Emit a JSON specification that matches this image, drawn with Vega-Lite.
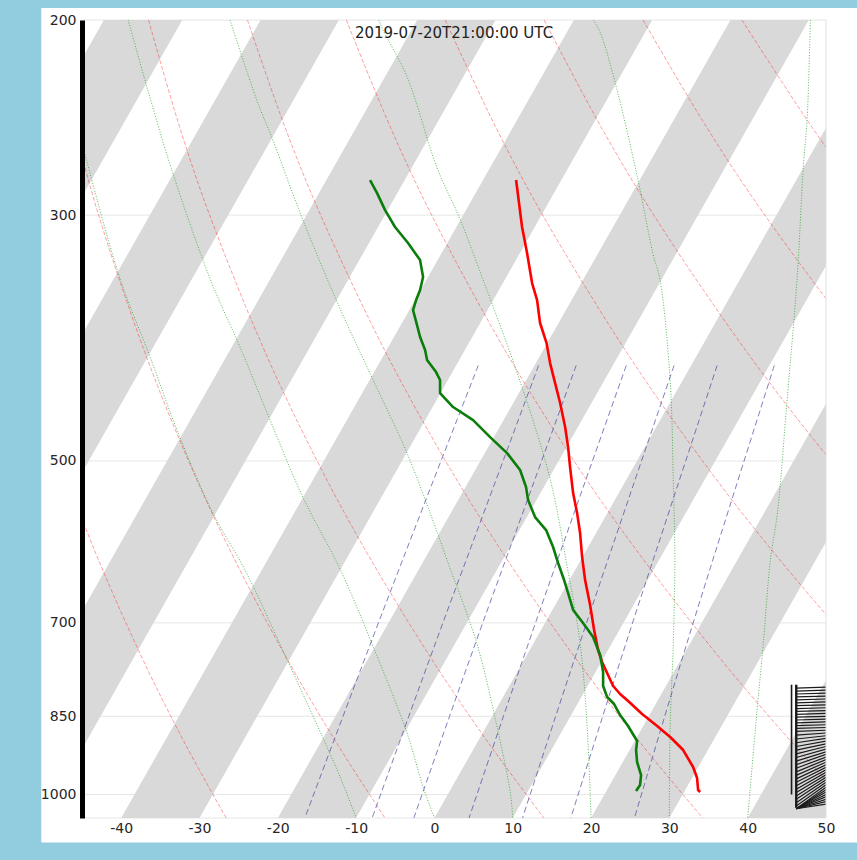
{
  "$schema": "https://vega.github.io/schema/vega-lite/v6.json",
  "width": 744,
  "height": 798,
  "autosize": {"type": "none"},
  "padding": {"left": 82, "top": 20, "right": 31, "bottom": 42},
  "background": "#92cddf",
  "config": {
    "view": {"stroke": null},
    "font": "DejaVu Sans",
    "axis": {"labelFont": "DejaVu Sans", "labelFontSize": 14, "labelColor": "#262626", "tickSize": 0, "zindex": 1}
  },
  "datasets": {
    "bands": [
      {"band": -100, "p": 1050, "xl": -100, "xr": -90}, {"band": -100, "p": 200, "xl": -42.2, "xr": -32.2},
      {"band": -80, "p": 1050, "xl": -80, "xr": -70}, {"band": -80, "p": 200, "xl": -22.2, "xr": -12.2},
      {"band": -60, "p": 1050, "xl": -60, "xr": -50}, {"band": -60, "p": 200, "xl": -2.2, "xr": 7.8},
      {"band": -40, "p": 1050, "xl": -40, "xr": -30}, {"band": -40, "p": 200, "xl": 17.8, "xr": 27.8},
      {"band": -20, "p": 1050, "xl": -20, "xr": -10}, {"band": -20, "p": 200, "xl": 37.8, "xr": 47.8},
      {"band": 0, "p": 1050, "xl": 0, "xr": 10}, {"band": 0, "p": 200, "xl": 57.8, "xr": 67.8},
      {"band": 20, "p": 1050, "xl": 20, "xr": 30}, {"band": 20, "p": 200, "xl": 77.8, "xr": 87.8},
      {"band": 40, "p": 1050, "xl": 40, "xr": 50}, {"band": 40, "p": 200, "xl": 97.8, "xr": 107.8}
    ],
    "grid": [{"p": 200}, {"p": 300}, {"p": 500}, {"p": 700}, {"p": 850}, {"p": 1000}, {"p": 1050}],
    "dry": [
      {"t0": -30, "p": 1050, "x": -26.59}, {"t0": -30, "p": 900, "x": -31.83}, {"t0": -30, "p": 750, "x": -37.44}, {"t0": -30, "p": 600, "x": -43.49}, {"t0": -30, "p": 500, "x": -47.79},
      {"t0": -10, "p": 1050, "x": -6.31}, {"t0": -10, "p": 900, "x": -12.42}, {"t0": -10, "p": 750, "x": -19.02}, {"t0": -10, "p": 600, "x": -26.2}, {"t0": -10, "p": 500, "x": -31.39}, {"t0": -10, "p": 400, "x": -36.92}, {"t0": -10, "p": 300, "x": -42.88}, {"t0": -10, "p": 250, "x": -45.98},
      {"t0": 10, "p": 1050, "x": 13.98}, {"t0": 10, "p": 900, "x": 6.98}, {"t0": 10, "p": 750, "x": -0.6}, {"t0": 10, "p": 600, "x": -8.92}, {"t0": 10, "p": 500, "x": -14.98}, {"t0": 10, "p": 400, "x": -21.53}, {"t0": 10, "p": 300, "x": -28.7}, {"t0": 10, "p": 250, "x": -32.52}, {"t0": 10, "p": 200, "x": -36.5},
      {"t0": 30, "p": 1050, "x": 34.26}, {"t0": 30, "p": 900, "x": 26.39}, {"t0": 30, "p": 750, "x": 17.82}, {"t0": 30, "p": 600, "x": 8.37}, {"t0": 30, "p": 500, "x": 1.43}, {"t0": 30, "p": 400, "x": -6.14}, {"t0": 30, "p": 300, "x": -14.53}, {"t0": 30, "p": 250, "x": -19.07}, {"t0": 30, "p": 200, "x": -23.87},
      {"t0": 50, "p": 1050, "x": 54.54}, {"t0": 50, "p": 900, "x": 45.8}, {"t0": 50, "p": 750, "x": 36.24}, {"t0": 50, "p": 600, "x": 25.65}, {"t0": 50, "p": 500, "x": 17.83}, {"t0": 50, "p": 400, "x": 9.26}, {"t0": 50, "p": 300, "x": -0.35}, {"t0": 50, "p": 250, "x": -5.61}, {"t0": 50, "p": 200, "x": -11.25},
      {"t0": 70, "p": 900, "x": 65.2}, {"t0": 70, "p": 750, "x": 54.67}, {"t0": 70, "p": 600, "x": 42.93}, {"t0": 70, "p": 500, "x": 34.24}, {"t0": 70, "p": 400, "x": 24.65}, {"t0": 70, "p": 300, "x": 13.83}, {"t0": 70, "p": 250, "x": 7.85}, {"t0": 70, "p": 200, "x": 1.38},
      {"t0": 90, "p": 750, "x": 73.09}, {"t0": 90, "p": 600, "x": 60.22}, {"t0": 90, "p": 500, "x": 50.65}, {"t0": 90, "p": 400, "x": 40.04}, {"t0": 90, "p": 300, "x": 28.01}, {"t0": 90, "p": 250, "x": 21.31}, {"t0": 90, "p": 200, "x": 14.01},
      {"t0": 110, "p": 500, "x": 67.05}, {"t0": 110, "p": 400, "x": 55.44}, {"t0": 110, "p": 300, "x": 42.19}, {"t0": 110, "p": 250, "x": 34.77}, {"t0": 110, "p": 200, "x": 26.64},
      {"t0": 130, "p": 400, "x": 70.83}, {"t0": 130, "p": 300, "x": 56.37}, {"t0": 130, "p": 250, "x": 48.23}, {"t0": 130, "p": 200, "x": 39.27}
    ],
    "moist": [
      {"t0": -10, "p": 1050, "x": -10.0}, {"t0": -10, "p": 964, "x": -12.05}, {"t0": -10, "p": 756, "x": -18.8}, {"t0": -10, "p": 627, "x": -24.2}, {"t0": -10, "p": 557, "x": -28.3}, {"t0": -10, "p": 476, "x": -32.5}, {"t0": -10, "p": 403, "x": -36.3}, {"t0": -10, "p": 343, "x": -40.1}, {"t0": -10, "p": 268, "x": -44.4}, {"t0": -10, "p": 245, "x": -45.8},
      {"t0": 0, "p": 1050, "x": 0.0}, {"t0": 0, "p": 984.5, "x": -1.45}, {"t0": 0, "p": 880, "x": -3.5}, {"t0": 0, "p": 736, "x": -7.8}, {"t0": 0, "p": 627, "x": -12.0}, {"t0": 0, "p": 539, "x": -16.8}, {"t0": 0, "p": 459, "x": -21.0}, {"t0": 0, "p": 395, "x": -24.8}, {"t0": 0, "p": 343, "x": -28.6}, {"t0": 0, "p": 275, "x": -33.4}, {"t0": 0, "p": 230, "x": -36.7}, {"t0": 0, "p": 200, "x": -39.1},
      {"t0": 10, "p": 1050, "x": 10.0}, {"t0": 10, "p": 997, "x": 9.7}, {"t0": 10, "p": 869, "x": 8.0}, {"t0": 10, "p": 730, "x": 5.4}, {"t0": 10, "p": 614, "x": 1.6}, {"t0": 10, "p": 581, "x": 0.4}, {"t0": 10, "p": 492, "x": -3.5}, {"t0": 10, "p": 423, "x": -7.8}, {"t0": 10, "p": 365, "x": -12.0}, {"t0": 10, "p": 303, "x": -16.8}, {"t0": 10, "p": 257, "x": -20.6}, {"t0": 10, "p": 236, "x": -22.7}, {"t0": 10, "p": 200, "x": -26.1},
      {"t0": 20, "p": 1050, "x": 20.0}, {"t0": 20, "p": 869, "x": 19.5}, {"t0": 20, "p": 730, "x": 18.6}, {"t0": 20, "p": 620, "x": 16.9}, {"t0": 20, "p": 520, "x": 14.8}, {"t0": 20, "p": 423, "x": 10.9}, {"t0": 20, "p": 343, "x": 6.2}, {"t0": 20, "p": 303, "x": 3.3}, {"t0": 20, "p": 271.5, "x": 0.3}, {"t0": 20, "p": 225, "x": -3.5}, {"t0": 20, "p": 204, "x": -6.6}, {"t0": 20, "p": 200, "x": -7.1},
      {"t0": 30, "p": 1050, "x": 30.0}, {"t0": 30, "p": 869, "x": 30.1}, {"t0": 30, "p": 730, "x": 30.5}, {"t0": 30, "p": 614, "x": 30.7}, {"t0": 30, "p": 520, "x": 30.5}, {"t0": 30, "p": 423, "x": 30.1}, {"t0": 30, "p": 343, "x": 28.8}, {"t0": 30, "p": 325, "x": 27.9}, {"t0": 30, "p": 279, "x": 26.0}, {"t0": 30, "p": 231, "x": 23.3}, {"t0": 30, "p": 205.5, "x": 21.2}, {"t0": 30, "p": 200, "x": 20.3},
      {"t0": 40, "p": 1050, "x": 40.0}, {"t0": 40, "p": 839, "x": 41.2}, {"t0": 40, "p": 730, "x": 42.0}, {"t0": 40, "p": 614, "x": 42.9}, {"t0": 40, "p": 557, "x": 43.8}, {"t0": 40, "p": 443, "x": 45.0}, {"t0": 40, "p": 343, "x": 46.3}, {"t0": 40, "p": 271.5, "x": 47.1}, {"t0": 40, "p": 245, "x": 47.6}, {"t0": 40, "p": 200, "x": 48.0}
    ],
    "mix": [
      {"w": 1, "p": 1050, "x": -16.55}, {"w": 1, "p": 850, "x": -11.67}, {"w": 1, "p": 700, "x": -7.15}, {"w": 1, "p": 550, "x": -1.44}, {"w": 1, "p": 410, "x": 5.6},
      {"w": 2, "p": 1050, "x": -7.95}, {"w": 2, "p": 850, "x": -3.27}, {"w": 2, "p": 700, "x": 1.08}, {"w": 2, "p": 550, "x": 6.59}, {"w": 2, "p": 410, "x": 13.3},
      {"w": 3, "p": 1050, "x": -2.63}, {"w": 3, "p": 850, "x": 1.93}, {"w": 3, "p": 700, "x": 6.17}, {"w": 3, "p": 550, "x": 11.56}, {"w": 3, "p": 410, "x": 18.1},
      {"w": 5, "p": 1050, "x": 4.42}, {"w": 5, "p": 850, "x": 8.81}, {"w": 5, "p": 700, "x": 12.91}, {"w": 5, "p": 550, "x": 18.11}, {"w": 5, "p": 410, "x": 24.5},
      {"w": 8, "p": 1050, "x": 11.25}, {"w": 8, "p": 850, "x": 15.48}, {"w": 8, "p": 700, "x": 19.43}, {"w": 8, "p": 550, "x": 24.45}, {"w": 8, "p": 410, "x": 30.6},
      {"w": 12, "p": 1050, "x": 17.41}, {"w": 12, "p": 850, "x": 21.49}, {"w": 12, "p": 700, "x": 25.3}, {"w": 12, "p": 550, "x": 30.16}, {"w": 12, "p": 410, "x": 36.1},
      {"w": 20, "p": 1050, "x": 25.54}, {"w": 20, "p": 850, "x": 29.41}, {"w": 20, "p": 700, "x": 33.04}, {"w": 20, "p": 550, "x": 37.69}, {"w": 20, "p": 410, "x": 43.4}
    ],
    "temp": [
      {"p": 278.9, "x": 10.43}, {"p": 307.5, "x": 11.19}, {"p": 324.6, "x": 11.83}, {"p": 345.5, "x": 12.47}, {"p": 357.9, "x": 13.11}, {"p": 375.4, "x": 13.49}, {"p": 391.4, "x": 14.32}, {"p": 408.0, "x": 14.77}, {"p": 425.3, "x": 15.41}, {"p": 443.3, "x": 16.05}, {"p": 466.0, "x": 16.69}, {"p": 485.8, "x": 17.07}, {"p": 506.4, "x": 17.32}, {"p": 534.5, "x": 17.71}, {"p": 557.2, "x": 18.22}, {"p": 580.8, "x": 18.6}, {"p": 610.5, "x": 18.86}, {"p": 640.4, "x": 19.24}, {"p": 674.5, "x": 19.88}, {"p": 710.5, "x": 20.39}, {"p": 740.6, "x": 20.9}, {"p": 759.3, "x": 21.41}, {"p": 776.9, "x": 22.05}, {"p": 798.1, "x": 22.82}, {"p": 811.5, "x": 23.71}, {"p": 823.4, "x": 24.73}, {"p": 846.0, "x": 26.52}, {"p": 867.3, "x": 28.44}, {"p": 887.4, "x": 30.1}, {"p": 911.7, "x": 31.76}, {"p": 944.4, "x": 33.03}, {"p": 966.3, "x": 33.54}, {"p": 990.7, "x": 33.67}, {"p": 994.8, "x": 33.93}
    ],
    "dewp": [
      {"p": 278.9, "x": -8.22}, {"p": 286.6, "x": -7.32}, {"p": 296.9, "x": -6.3}, {"p": 307.5, "x": -5.03}, {"p": 317.9, "x": -3.37}, {"p": 329.4, "x": -1.83}, {"p": 341.2, "x": -1.45}, {"p": 350.5, "x": -1.83}, {"p": 357.9, "x": -2.34}, {"p": 365.4, "x": -2.73}, {"p": 377.0, "x": -2.22}, {"p": 386.5, "x": -1.83}, {"p": 397.1, "x": -1.19}, {"p": 405.4, "x": -0.94}, {"p": 415.7, "x": 0.21}, {"p": 422.6, "x": 0.72}, {"p": 434.2, "x": 0.72}, {"p": 447.0, "x": 2.38}, {"p": 459.3, "x": 4.94}, {"p": 475.8, "x": 7.11}, {"p": 491.9, "x": 9.28}, {"p": 509.5, "x": 10.94}, {"p": 527.9, "x": 11.7}, {"p": 542.3, "x": 11.96}, {"p": 561.8, "x": 12.85}, {"p": 577.2, "x": 14.26}, {"p": 597.9, "x": 15.15}, {"p": 618.1, "x": 15.79}, {"p": 640.4, "x": 16.56}, {"p": 657.9, "x": 17.07}, {"p": 681.5, "x": 17.71}, {"p": 700.2, "x": 18.98}, {"p": 720.9, "x": 20.26}, {"p": 748.3, "x": 21.16}, {"p": 775.2, "x": 21.54}, {"p": 798.1, "x": 21.54}, {"p": 816.6, "x": 22.05}, {"p": 828.6, "x": 22.94}, {"p": 847.7, "x": 23.71}, {"p": 867.3, "x": 24.73}, {"p": 894.8, "x": 25.88}, {"p": 911.7, "x": 25.75}, {"p": 934.7, "x": 25.88}, {"p": 960.3, "x": 26.39}, {"p": 980.4, "x": 26.26}, {"p": 992.7, "x": 25.75}
    ],
    "barbs": [
      {"p": 800, "pe": 801.5}, {"p": 805, "pe": 806.5}, {"p": 810, "pe": 811.5}, {"p": 815, "pe": 816.5}, {"p": 820, "pe": 821.5}, {"p": 825, "pe": 826.5}, {"p": 830, "pe": 831.5}, {"p": 835, "pe": 836.5}, {"p": 840, "pe": 841.5}, {"p": 845, "pe": 846.5}, {"p": 850, "pe": 851.5}, {"p": 855, "pe": 856.5}, {"p": 860, "pe": 861.5}, {"p": 865, "pe": 866.5}, {"p": 870, "pe": 871.5},
      {"p": 875, "pe": 877}, {"p": 880, "pe": 884}, {"p": 885, "pe": 891}, {"p": 890, "pe": 898}, {"p": 895, "pe": 905}, {"p": 900, "pe": 912}, {"p": 905, "pe": 919}, {"p": 910, "pe": 926}, {"p": 915, "pe": 933}, {"p": 920, "pe": 940}, {"p": 925, "pe": 947}, {"p": 930, "pe": 954}, {"p": 935, "pe": 961}, {"p": 940, "pe": 968}, {"p": 945, "pe": 975}, {"p": 950, "pe": 982}, {"p": 955, "pe": 989}, {"p": 960, "pe": 996}, {"p": 965, "pe": 1003}, {"p": 970, "pe": 1010}, {"p": 975, "pe": 1017}, {"p": 980, "pe": 1024}, {"p": 985, "pe": 1030}, {"p": 990, "pe": 1030}, {"p": 995, "pe": 1030}, {"p": 1000, "pe": 1030}, {"p": 1005, "pe": 1030}, {"p": 1010, "pe": 1030}, {"p": 1015, "pe": 1030}, {"p": 1020, "pe": 1030}
    ],
    "feathers": [
      {"x": 45.6, "p": 796, "pe": 1000, "w": 1.6},
      {"x": 46.2, "p": 796, "pe": 1028, "w": 2.4}
    ],
    "label": [{"text": "2019-07-20T21:00:00 UTC"}]
  },
  "layer": [
    {
      "data": {"values": [{}]},
      "mark": {"type": "rect", "fill": "#ffffff", "clip": false},
      "encoding": {
        "x": {"datum": -50.2, "type": "quantitative", "scale": {"domain": [-45, 50], "nice": false, "zero": false}},
        "x2": {"datum": 54},
        "y": {"datum": 195.1, "type": "quantitative", "scale": {"type": "log", "domain": [200, 1050], "nice": false, "reverse": true}},
        "y2": {"datum": 1104.8}
      }
    },
    {
      "data": {"name": "grid"},
      "mark": {"type": "rule", "color": "#e6e6e6", "strokeWidth": 1},
      "encoding": {
        "y": {"field": "p", "type": "quantitative", "scale": {"type": "log", "domain": [200, 1050], "nice": false, "reverse": true}}
      }
    },
    {
      "data": {"name": "bands"},
      "mark": {"type": "area", "orient": "horizontal", "color": "#d9d9d9", "opacity": 1, "clip": true},
      "encoding": {
        "x": {"field": "xl", "type": "quantitative", "stack": null, "scale": {"domain": [-45, 50], "nice": false, "zero": false}},
        "x2": {"field": "xr"},
        "y": {"field": "p", "type": "quantitative", "scale": {"type": "log", "domain": [200, 1050], "nice": false, "reverse": true}},
        "detail": {"field": "band", "type": "nominal"}
      }
    },
    {
      "data": {"name": "dry"},
      "mark": {"type": "line", "color": "#ff0000", "opacity": 0.38, "strokeWidth": 1, "strokeDash": [4, 2], "interpolate": "catmull-rom", "clip": true},
      "encoding": {
        "x": {"field": "x", "type": "quantitative", "scale": {"domain": [-45, 50], "nice": false, "zero": false}},
        "y": {"field": "p", "type": "quantitative", "scale": {"type": "log", "domain": [200, 1050], "nice": false, "reverse": true}},
        "detail": {"field": "t0", "type": "nominal"},
        "order": {"field": "p", "type": "quantitative"}
      }
    },
    {
      "data": {"name": "moist"},
      "mark": {"type": "line", "color": "#1fa01f", "opacity": 0.75, "strokeWidth": 1, "strokeDash": [1, 1.7], "interpolate": "catmull-rom", "clip": true},
      "encoding": {
        "x": {"field": "x", "type": "quantitative", "scale": {"domain": [-45, 50], "nice": false, "zero": false}},
        "y": {"field": "p", "type": "quantitative", "scale": {"type": "log", "domain": [200, 1050], "nice": false, "reverse": true}},
        "detail": {"field": "t0", "type": "nominal"},
        "order": {"field": "p", "type": "quantitative"}
      }
    },
    {
      "data": {"name": "mix"},
      "mark": {"type": "line", "color": "#3a3a9a", "opacity": 0.65, "strokeWidth": 1, "strokeDash": [6, 3.5], "interpolate": "catmull-rom", "clip": true},
      "encoding": {
        "x": {"field": "x", "type": "quantitative", "scale": {"domain": [-45, 50], "nice": false, "zero": false}},
        "y": {"field": "p", "type": "quantitative", "scale": {"type": "log", "domain": [200, 1050], "nice": false, "reverse": true}},
        "detail": {"field": "w", "type": "nominal"},
        "order": {"field": "p", "type": "quantitative"}
      }
    },
    {
      "data": {"name": "temp"},
      "mark": {"type": "line", "color": "#ff0000", "strokeWidth": 2.6, "strokeJoin": "round", "clip": true},
      "encoding": {
        "x": {"field": "x", "type": "quantitative", "scale": {"domain": [-45, 50], "nice": false, "zero": false}},
        "y": {"field": "p", "type": "quantitative", "scale": {"type": "log", "domain": [200, 1050], "nice": false, "reverse": true}},
        "order": {"field": "p", "type": "quantitative"}
      }
    },
    {
      "data": {"name": "dewp"},
      "mark": {"type": "line", "color": "#0b7d0b", "strokeWidth": 2.6, "strokeJoin": "round", "clip": true},
      "encoding": {
        "x": {"field": "x", "type": "quantitative", "scale": {"domain": [-45, 50], "nice": false, "zero": false}},
        "y": {"field": "p", "type": "quantitative", "scale": {"type": "log", "domain": [200, 1050], "nice": false, "reverse": true}},
        "order": {"field": "p", "type": "quantitative"}
      }
    },
    {
      "data": {"name": "barbs"},
      "mark": {"type": "rule", "color": "#1a1a1a", "strokeWidth": 1.2, "clip": true},
      "encoding": {
        "x": {"datum": 50, "type": "quantitative", "scale": {"domain": [-45, 50], "nice": false, "zero": false}},
        "x2": {"datum": 46.2},
        "y": {"field": "p", "type": "quantitative", "scale": {"type": "log", "domain": [200, 1050], "nice": false, "reverse": true}},
        "y2": {"field": "pe"}
      }
    },
    {
      "data": {"name": "feathers"},
      "mark": {"type": "rule", "color": "#1a1a1a", "clip": true},
      "encoding": {
        "x": {"field": "x", "type": "quantitative", "scale": {"domain": [-45, 50], "nice": false, "zero": false}},
        "y": {"field": "p", "type": "quantitative", "scale": {"type": "log", "domain": [200, 1050], "nice": false, "reverse": true}},
        "y2": {"field": "pe"},
        "strokeWidth": {"field": "w", "type": "quantitative", "scale": null}
      }
    },
    {
      "data": {"name": "label"},
      "mark": {"type": "text", "font": "DejaVu Sans", "fontSize": 15, "color": "#222222", "align": "center", "baseline": "middle", "clip": false},
      "encoding": {
        "x": {"datum": 2.5, "type": "quantitative", "scale": {"domain": [-45, 50], "nice": false, "zero": false}},
        "y": {"datum": 205.3, "type": "quantitative", "scale": {"type": "log", "domain": [200, 1050], "nice": false, "reverse": true}},
        "text": {"field": "text", "type": "nominal"}
      }
    },
    {
      "data": {"name": "grid"},
      "mark": {"type": "point", "opacity": 0},
      "encoding": {
        "x": {"datum": 50, "type": "quantitative", "scale": {"domain": [-45, 50], "nice": false, "zero": false},
          "axis": {"values": [-40, -30, -20, -10, 0, 10, 20, 30, 40, 50], "labelExpr": "datum.value < 0 ? '-' + abs(datum.value) : '' + datum.value", "domain": false, "ticks": false, "tickSize": 0, "labelPadding": 3, "labelFlush": false, "labelOverlap": false, "grid": false, "title": null, "zindex": 2}},
        "y": {"field": "p", "type": "quantitative", "scale": {"type": "log", "domain": [200, 1050], "nice": false, "reverse": true},
          "axis": {"values": [200, 300, 500, 700, 850, 1000], "format": "d", "domain": true, "domainColor": "#000000", "domainWidth": 5, "ticks": false, "tickSize": 0, "labelPadding": 6, "labelFlush": false, "labelOverlap": false, "grid": false, "title": null, "zindex": 2}}
      }
    },
    {
      "data": {"values": [{}]},
      "mark": {"type": "rule", "color": "#e0e0e0", "strokeWidth": 1},
      "encoding": {
        "x": {"datum": 50, "type": "quantitative", "scale": {"domain": [-45, 50], "nice": false, "zero": false}}
      }
    }
  ]
}
